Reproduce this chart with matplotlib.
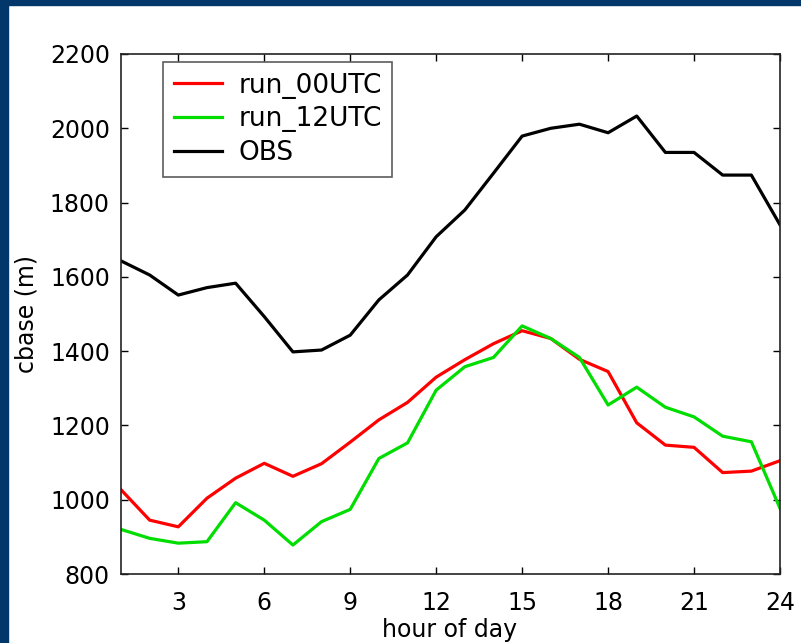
import matplotlib
matplotlib.use("Agg")
import matplotlib.pyplot as plt
from matplotlib.patches import Rectangle

hours = list(range(1, 25))
run_00utc = [1027, 945, 927, 1004, 1058, 1098, 1063, 1097, 1155, 1215, 1262, 1330, 1377, 1420,
             1455, 1434, 1378, 1345, 1207, 1147, 1141, 1073, 1077, 1105]
run_12utc = [920, 896, 883, 887, 992, 945, 878, 941, 974, 1111, 1153, 1295, 1358, 1383,
             1468, 1434, 1383, 1255, 1303, 1249, 1223, 1171, 1156, 977]
obs = [1643, 1605, 1551, 1571, 1583, 1493, 1398, 1403, 1443, 1538, 1605, 1708, 1780, 1879,
       1979, 2000, 2011, 1988, 2033, 1935, 1935, 1874, 1874, 1740]
xticks = [3, 6, 9, 12, 15, 18, 21, 24]
yticks = [800, 1000, 1200, 1400, 1600, 1800, 2000, 2200]

plt.rcParams['font.family'] = ['DejaVu Sans']
fig = plt.figure(figsize=(8.01, 6.43), dpi=100)
fig.patch.set_facecolor('white')
navy = '#02376b'
fig.patches.append(Rectangle((0, 0), 8/801, 1, transform=fig.transFigure, color=navy, zorder=0))
fig.patches.append(Rectangle((0, 1 - 5/643), 1, 5/643, transform=fig.transFigure, color=navy, zorder=0))

ax = fig.add_axes([121/801, (643-574)/643, (780-121)/801, (574-54)/643])
ax.plot(hours, run_00utc, color='#ff0000', lw=2.3, label='run_00UTC')
ax.plot(hours, run_12utc, color='#00dd00', lw=2.3, label='run_12UTC')
ax.plot(hours, obs, color='black', lw=2.3, label='OBS')
ax.set_xlim(1, 24)
ax.set_ylim(800, 2200)
ax.set_xticks(xticks)
ax.set_yticks(yticks)
ax.tick_params(direction='in', length=5, width=1, top=True, right=True, labelsize=17,
               colors='black')
ax.tick_params(axis='x', pad=12)
ax.tick_params(axis='y', pad=8)
for s in ax.spines.values():
    s.set_linewidth(1.2)
    s.set_color('#222222')
fig.text(450/801, 1 - 630/643, 'hour of day', fontsize=17, ha='center', va='center')
ax.set_ylabel('cbase (m)', fontsize=17, labelpad=8)
leg = ax.legend(loc='upper left', bbox_to_anchor=(42/659, 1 - 8/520), fontsize=19,
                frameon=True, fancybox=False, edgecolor='#333333', handlelength=1.85,
                handletextpad=0.6, labelspacing=0.3, borderpad=0.4, borderaxespad=0)
leg.get_frame().set_linewidth(1.2)
fig.savefig('out.png', dpi=100, facecolor='white')
